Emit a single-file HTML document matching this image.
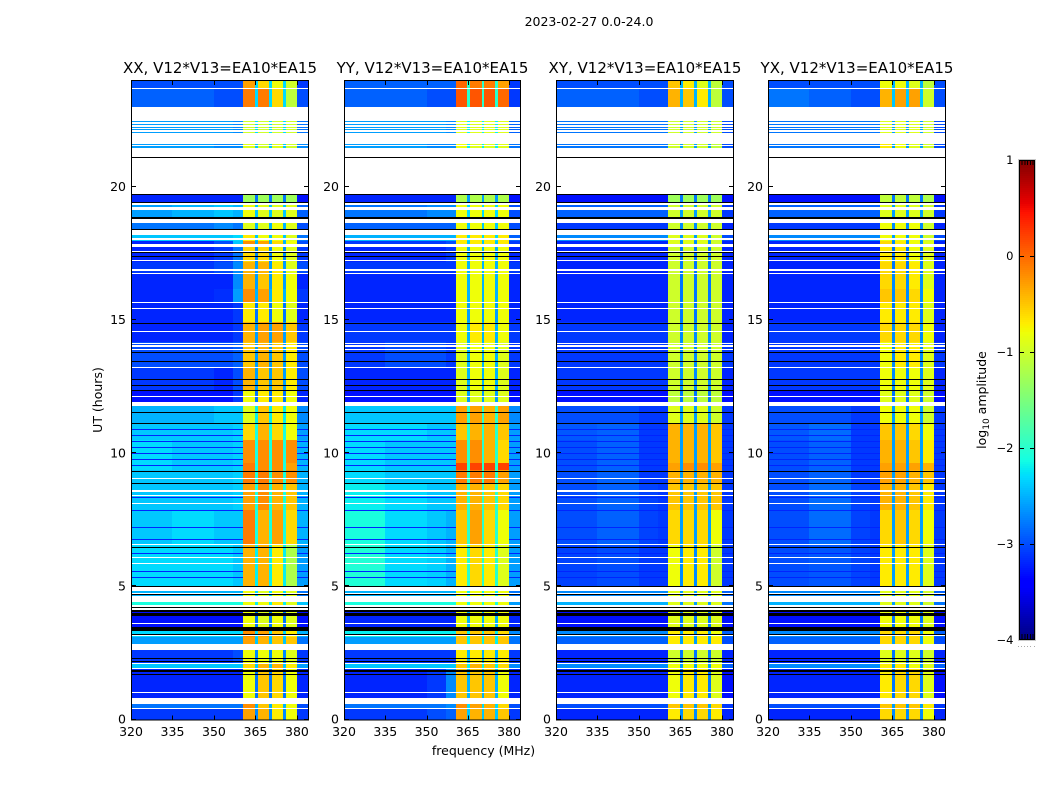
<!DOCTYPE html>
<html>
<head>
<meta charset="utf-8">
<title>2023-02-27 amplitude spectrogram</title>
<style>
html,body{margin:0;padding:0;background:#fff;}
svg{display:block;font-family:"DejaVu Sans","Liberation Sans",sans-serif;}
text{fill:#000;}
</style>
</head>
<body>
<svg id="figure" xmlns="http://www.w3.org/2000/svg" width="1050" height="800" viewBox="0 0 1050 800">
  <text x="589" y="26" font-size="12.5" text-anchor="middle">2023-02-27 0.0-24.0</text>
  <text x="483.5" y="755" font-size="12.5" text-anchor="middle">frequency (MHz)</text>
  <text x="0" y="0" font-size="12.5" text-anchor="middle" transform="translate(102 400) rotate(-90)">UT (hours)</text>
  <text x="0" y="0" font-size="12.5" text-anchor="middle" transform="translate(986 400) rotate(-90)">log<tspan font-size="9" dy="3">10</tspan><tspan dy="-3"> amplitude</tspan></text>
  <g id="panels"></g>
  <g id="colorbar"></g>
</svg>
<script>
// Time-segment edges (UT hours), top of the plot downwards
const timeEdges = [24,23.73,23.03,22.05,21.43,19.75,19.41,18.9,18.3,18.0,17.75,17.2,16.74,16.2,15.7,14.93,14.2,13.24,12.4,11.94,11.14,10.5,9.63,9.37,8.84,7.86,6.55,5.0,4.55,4.18,3.42,3.09,2.82,2.07,1.88,0.79,0.41,0];
// Frequency-channel edges (MHz)
const freqEdges = [320,335,350,357,360.6,364.9,365.9,370,371,375,376.1,380.1,384];
// Which matrix column feeds each frequency channel
// columns: low, mid, high, shoulder, subband A, B, C, D, upper edge, notch
const channelColumn = [0,1,2,3,4,9,5,9,6,9,7,8];

// log10 amplitude per time segment
const xxLevels = [
[-3.0,-3.0,-3.0,-3.0,-0.3,-0.6,-0.8,-1.0,-3.1,-2.3],
[-2.9,-2.9,-3.0,-3.0,-0.1,-0.1,-0.6,-1.1,-3.0,-2.3],
[-2.6,-2.6,-2.6,-2.7,-1.0,-1.0,-1.0,-1.0,-2.8,-2.3],
[-2.6,-2.6,-2.7,-2.7,-0.9,-1.0,-0.9,-1.0,-2.7,-2.4],
[-3.0,-3.0,-3.0,-3.0,-1.0,-1.0,-1.0,-1.0,-3.0,-2.4],
[-3.2,-3.2,-3.2,-3.2,-1.3,-1.3,-1.3,-1.3,-3.3,-2.8],
[-2.6,-2.5,-2.4,-2.5,-0.8,-0.9,-0.9,-0.9,-2.9,-2.4],
[-2.8,-2.8,-2.7,-2.8,-0.9,-0.9,-0.8,-0.9,-3.0,-2.5],
[-2.4,-2.4,-2.4,-2.3,-0.7,-0.8,-0.8,-0.9,-2.8,-2.4],
[-3.2,-3.2,-3.0,-2.4,-0.2,-0.3,-0.6,-0.8,-3.0,-2.5],
[-3.2,-3.2,-3.1,-2.8,-0.6,-0.6,-0.8,-0.9,-3.1,-2.7],
[-3.1,-3.1,-3.0,-2.7,-0.4,-0.4,-0.7,-0.9,-3.0,-2.6],
[-3.2,-3.2,-3.2,-2.7,-0.4,-0.5,-0.7,-0.8,-3.2,-2.6],
[-3.2,-3.2,-3.15,-2.6,-0.2,-0.3,-0.7,-0.8,-3.1,-2.5],
[-3.2,-3.2,-3.2,-3.1,-0.7,-0.7,-0.8,-0.9,-3.2,-2.8],
[-3.2,-3.2,-3.2,-3.1,-0.4,-0.3,-0.3,-0.5,-3.1,-2.6],
[-3.0,-3.0,-3.0,-2.9,-0.5,-0.4,-0.5,-0.7,-3.0,-2.6],
[-3.1,-3.1,-3.2,-3.0,-0.4,-0.5,-0.5,-0.7,-3.0,-2.6],
[-3.3,-3.3,-3.3,-3.1,-0.8,-0.7,-0.7,-0.8,-3.2,-2.8],
[-2.5,-2.5,-2.4,-2.4,-0.9,-0.5,-0.7,-0.8,-2.7,-2.2],
[-2.4,-2.4,-2.4,-2.35,-0.6,-0.4,-0.6,-0.8,-2.6,-2.1],
[-2.3,-2.4,-2.4,-2.35,-0.2,-0.2,-0.2,-0.2,-2.5,-2.1],
[-2.3,-2.4,-2.4,-2.35,-0.1,-0.2,-0.2,-0.3,-2.5,-2.1],
[-2.4,-2.4,-2.4,-2.35,-0.1,-0.1,-0.2,-0.2,-2.5,-2.1],
[-2.4,-2.4,-2.4,-2.35,-0.3,-0.2,-0.4,-0.5,-2.5,-2.1],
[-2.4,-2.3,-2.4,-2.4,-0.1,-0.4,-0.3,-0.6,-2.5,-2.1],
[-2.3,-2.3,-2.3,-2.4,-0.4,-0.4,-0.7,-1.2,-2.6,-2.2],
[-2.5,-2.5,-2.5,-2.5,-0.8,-0.9,-0.8,-0.9,-2.8,-2.3],
[-2.1,-2.1,-2.1,-2.1,-0.8,-0.8,-0.7,-0.9,-2.4,-2.2],
[-3.3,-3.3,-3.3,-3.3,-0.8,-0.9,-0.8,-0.9,-3.3,-2.8],
[-2.3,-2.3,-2.3,-2.3,-0.2,-0.3,-0.5,-0.7,-2.5,-2.3],
[-2.6,-2.6,-2.6,-2.6,-0.3,-0.4,-0.5,-0.5,-2.8,-2.4],
[-3.1,-3.1,-3.1,-3.0,-0.8,-0.8,-0.8,-0.9,-3.1,-2.7],
[-2.4,-2.4,-2.4,-2.4,-0.6,-0.4,-0.4,-0.7,-2.6,-2.4],
[-3.2,-3.2,-3.2,-3.2,-0.8,-0.5,-0.6,-0.8,-3.2,-2.8],
[-2.8,-2.8,-2.8,-2.8,-0.2,-0.5,-0.7,-0.8,-3.0,-2.5],
[-3.1,-3.1,-3.1,-3.1,-0.3,-0.4,-0.7,-0.8,-3.1,-2.7]
];
const yyLevels = [
[-2.9,-2.9,-2.9,-2.9,0.0,-0.1,-0.1,-0.3,-3.1,-2.0],
[-2.9,-2.9,-3.0,-3.0,0.1,0.1,0.1,0.0,-3.1,-2.0],
[-2.6,-2.6,-2.6,-2.7,-0.9,-0.9,-0.9,-0.9,-2.9,-2.2],
[-2.6,-2.6,-2.7,-2.7,-0.8,-0.9,-0.9,-0.9,-2.8,-2.2],
[-3.0,-3.0,-3.0,-3.0,-0.9,-0.9,-0.9,-0.9,-3.0,-2.3],
[-3.2,-3.2,-3.2,-3.2,-1.2,-1.2,-1.2,-1.2,-3.3,-2.6],
[-2.8,-2.8,-2.7,-2.7,-0.8,-0.8,-0.8,-0.8,-3.0,-2.3],
[-2.9,-2.9,-2.9,-2.9,-0.8,-0.8,-0.8,-0.8,-3.0,-2.4],
[-2.5,-2.5,-2.5,-2.5,-0.7,-0.7,-0.7,-0.7,-2.9,-2.3],
[-3.1,-3.1,-3.1,-3.0,-0.7,-0.7,-0.7,-0.7,-3.1,-2.4],
[-3.2,-3.2,-3.2,-3.1,-0.8,-0.8,-0.8,-0.8,-3.2,-2.5],
[-3.1,-3.1,-3.1,-3.1,-0.8,-0.8,-0.8,-0.8,-3.1,-2.5],
[-3.2,-3.2,-3.2,-3.2,-0.8,-0.8,-0.8,-0.8,-3.2,-2.5],
[-3.2,-3.2,-3.2,-3.2,-0.8,-0.8,-0.8,-0.8,-3.2,-2.5],
[-3.2,-3.2,-3.2,-3.2,-0.8,-0.8,-0.8,-0.8,-3.2,-2.6],
[-3.1,-3.1,-3.1,-3.1,-0.8,-0.7,-0.7,-0.8,-3.1,-2.5],
[-3.1,-3.0,-3.0,-3.1,-0.9,-0.8,-0.8,-0.9,-3.1,-2.5],
[-3.2,-3.2,-3.2,-3.2,-0.9,-0.8,-0.8,-0.9,-3.2,-2.5],
[-3.3,-3.3,-3.3,-3.3,-0.9,-0.9,-0.9,-0.9,-3.3,-2.6],
[-2.4,-2.4,-2.4,-2.4,-0.3,-0.3,-0.4,-0.3,-2.7,-2.0],
[-2.3,-2.3,-2.4,-2.4,-0.5,-0.4,-0.4,-0.5,-2.6,-2.0],
[-2.3,-2.4,-2.4,-2.4,-0.2,-0.2,-0.4,-0.6,-2.6,-2.0],
[-2.3,-2.4,-2.4,-2.4,0.2,0.2,0.2,0.2,-2.6,-2.0],
[-2.3,-2.4,-2.4,-2.4,-0.1,-0.1,-0.1,-0.3,-2.6,-2.0],
[-2.2,-2.3,-2.4,-2.4,-0.4,-0.4,-0.5,-0.6,-2.6,-2.0],
[-2.1,-2.3,-2.4,-2.5,-0.5,-0.3,-0.6,-0.8,-2.6,-2.0],
[-2.05,-2.3,-2.35,-2.5,-0.7,-0.6,-0.7,-0.9,-2.6,-2.0],
[-2.5,-2.5,-2.5,-2.5,-0.8,-0.8,-0.8,-0.8,-2.8,-2.2],
[-2.1,-2.1,-2.1,-2.1,-0.8,-0.8,-0.8,-0.8,-2.6,-2.1],
[-3.2,-3.2,-3.2,-3.2,-0.8,-0.8,-0.8,-0.8,-3.2,-2.5],
[-2.2,-2.2,-2.2,-2.2,-0.5,-0.5,-0.5,-0.6,-2.7,-2.2],
[-2.6,-2.6,-2.6,-2.6,-0.5,-0.5,-0.5,-0.5,-2.8,-2.2],
[-3.1,-3.1,-3.1,-3.1,-0.7,-0.7,-0.7,-0.7,-3.1,-2.5],
[-2.4,-2.4,-2.4,-2.4,-0.5,-0.4,-0.5,-0.6,-2.7,-2.2],
[-3.2,-3.2,-3.1,-2.7,-0.5,-0.5,-0.5,-0.8,-3.2,-2.5],
[-2.8,-2.8,-2.8,-2.7,-0.2,-0.3,-0.4,-0.6,-3.0,-2.3],
[-3.1,-3.1,-3.0,-2.9,-0.3,-0.4,-0.4,-0.5,-3.1,-2.4]
];
const xyLevels = [
[-3.0,-3.0,-3.0,-3.0,-0.5,-0.7,-0.9,-1.1,-3.0,-2.5],
[-2.9,-2.9,-3.0,-3.0,-0.4,-0.5,-0.7,-1.1,-3.0,-2.5],
[-2.8,-2.8,-2.8,-2.8,-1.0,-1.0,-1.0,-1.0,-3.0,-2.6],
[-2.8,-2.8,-2.8,-2.8,-1.0,-1.0,-1.0,-1.1,-3.0,-2.6],
[-3.1,-3.1,-3.1,-3.1,-1.0,-1.0,-1.0,-1.0,-3.1,-2.6],
[-3.3,-3.3,-3.3,-3.3,-1.3,-1.3,-1.3,-1.3,-3.3,-2.8],
[-2.9,-2.9,-2.9,-2.9,-1.0,-1.0,-1.0,-1.0,-3.1,-2.6],
[-3.1,-3.1,-3.1,-3.1,-1.0,-1.0,-1.0,-1.0,-3.2,-2.7],
[-2.7,-2.7,-2.7,-2.7,-0.9,-0.9,-0.9,-1.0,-3.0,-2.6],
[-3.2,-3.2,-3.2,-3.2,-0.9,-0.9,-0.9,-1.0,-3.2,-2.7],
[-3.2,-3.2,-3.2,-3.2,-1.0,-1.0,-1.0,-1.0,-3.2,-2.8],
[-3.2,-3.2,-3.2,-3.2,-1.0,-1.0,-1.0,-1.0,-3.2,-2.8],
[-3.2,-3.2,-3.2,-3.2,-1.0,-1.0,-1.0,-1.0,-3.2,-2.8],
[-3.2,-3.2,-3.2,-3.2,-1.0,-1.0,-1.0,-1.0,-3.2,-2.8],
[-3.2,-3.2,-3.2,-3.2,-1.0,-1.0,-1.0,-1.0,-3.2,-2.8],
[-3.1,-3.1,-3.1,-3.1,-1.0,-1.0,-1.0,-1.0,-3.2,-2.7],
[-3.1,-3.1,-3.1,-3.1,-1.0,-1.0,-1.0,-1.0,-3.1,-2.7],
[-3.1,-3.1,-3.1,-3.1,-1.0,-1.0,-1.0,-1.0,-3.2,-2.7],
[-3.3,-3.3,-3.3,-3.3,-1.1,-1.1,-1.1,-1.1,-3.3,-2.8],
[-3.0,-3.0,-3.1,-3.1,-0.9,-0.9,-0.9,-1.0,-3.1,-2.6],
[-2.95,-2.9,-3.1,-3.1,-0.4,-0.4,-0.4,-0.5,-3.1,-2.6],
[-3.0,-2.9,-3.1,-3.1,-0.4,-0.4,-0.4,-0.5,-3.1,-2.6],
[-3.0,-2.9,-3.1,-3.1,-0.3,-0.2,-0.2,-0.3,-3.1,-2.6],
[-3.0,-2.9,-3.1,-3.1,-0.4,-0.4,-0.4,-0.4,-3.1,-2.6],
[-3.0,-2.9,-3.05,-3.1,-0.5,-0.5,-0.5,-0.5,-3.1,-2.6],
[-3.0,-2.9,-3.05,-3.1,-0.6,-0.6,-0.6,-0.8,-3.1,-2.6],
[-3.05,-3.0,-3.1,-3.1,-0.8,-0.7,-0.7,-1.0,-3.1,-2.7],
[-2.7,-2.7,-2.7,-2.7,-0.9,-0.9,-0.9,-0.9,-2.9,-2.6],
[-2.5,-2.5,-2.5,-2.5,-0.9,-0.9,-0.9,-0.9,-2.8,-2.6],
[-3.3,-3.3,-3.3,-3.3,-0.9,-0.9,-0.9,-0.9,-3.3,-2.8],
[-2.7,-2.7,-2.7,-2.7,-0.7,-0.7,-0.7,-0.8,-2.9,-2.6],
[-2.9,-2.9,-2.9,-2.9,-0.7,-0.7,-0.7,-0.7,-3.0,-2.6],
[-3.2,-3.2,-3.2,-3.2,-1.0,-1.0,-1.0,-1.0,-3.2,-2.8],
[-2.7,-2.7,-2.7,-2.7,-0.8,-0.8,-0.8,-0.8,-2.9,-2.6],
[-3.2,-3.2,-3.2,-3.2,-0.8,-0.7,-0.7,-0.9,-3.3,-2.8],
[-3.0,-3.0,-3.0,-3.0,-0.5,-0.5,-0.5,-0.6,-3.1,-2.6],
[-3.2,-3.2,-3.2,-3.2,-0.7,-0.6,-0.6,-0.7,-3.2,-2.7]
];
const yxLevels = [
[-3.0,-3.0,-3.0,-3.0,-0.8,-0.8,-0.9,-1.1,-3.0,-2.5],
[-2.8,-2.9,-3.0,-3.0,-0.4,-0.3,-0.3,-1.0,-3.0,-2.4],
[-2.8,-2.8,-2.8,-2.8,-0.9,-0.9,-0.9,-1.0,-3.0,-2.6],
[-2.8,-2.8,-2.8,-2.8,-0.7,-0.8,-0.9,-1.0,-3.0,-2.6],
[-3.1,-3.1,-3.1,-3.1,-0.9,-0.9,-0.9,-1.0,-3.1,-2.6],
[-3.3,-3.3,-3.3,-3.3,-1.1,-1.1,-1.1,-1.2,-3.3,-2.8],
[-2.9,-2.9,-2.9,-2.9,-0.9,-0.9,-0.9,-1.0,-3.1,-2.6],
[-3.1,-3.1,-3.1,-3.1,-0.8,-0.8,-0.8,-1.0,-3.2,-2.7],
[-2.7,-2.7,-2.7,-2.7,-0.8,-0.8,-0.8,-1.0,-3.0,-2.6],
[-3.2,-3.2,-3.2,-3.2,-0.6,-0.7,-0.8,-0.9,-3.2,-2.7],
[-3.2,-3.2,-3.2,-3.2,-0.7,-0.7,-0.8,-0.9,-3.2,-2.8],
[-3.2,-3.2,-3.2,-3.2,-0.6,-0.6,-0.7,-0.9,-3.2,-2.8],
[-3.2,-3.2,-3.2,-3.2,-0.6,-0.6,-0.7,-0.9,-3.2,-2.7],
[-3.2,-3.2,-3.2,-3.2,-0.5,-0.5,-0.6,-0.8,-3.2,-2.7],
[-3.2,-3.2,-3.2,-3.2,-0.7,-0.7,-0.7,-0.9,-3.2,-2.8],
[-3.1,-3.1,-3.1,-3.1,-0.6,-0.6,-0.6,-0.8,-3.2,-2.7],
[-3.1,-3.1,-3.1,-3.1,-0.8,-0.7,-0.7,-0.9,-3.1,-2.7],
[-3.1,-3.1,-3.1,-3.1,-0.8,-0.8,-0.8,-0.9,-3.2,-2.7],
[-3.3,-3.3,-3.3,-3.3,-0.9,-0.9,-0.9,-1.0,-3.3,-2.8],
[-3.0,-3.0,-3.1,-3.1,-0.8,-0.8,-0.8,-1.0,-3.1,-2.6],
[-2.95,-2.85,-3.1,-3.1,-0.5,-0.5,-0.6,-0.8,-3.1,-2.6],
[-3.0,-2.9,-3.1,-3.1,-0.4,-0.4,-0.5,-0.7,-3.1,-2.6],
[-3.0,-2.9,-3.1,-3.1,-0.3,-0.3,-0.3,-0.4,-3.1,-2.6],
[-3.0,-2.9,-3.1,-3.1,-0.3,-0.3,-0.4,-0.5,-3.1,-2.6],
[-3.0,-2.85,-3.05,-3.1,-0.4,-0.4,-0.5,-0.7,-3.1,-2.6],
[-3.0,-2.85,-3.05,-3.1,-0.6,-0.5,-0.6,-0.8,-3.1,-2.6],
[-3.0,-2.95,-3.05,-3.1,-0.7,-0.7,-0.7,-0.9,-3.1,-2.6],
[-2.7,-2.7,-2.7,-2.7,-0.9,-0.9,-0.9,-1.0,-2.9,-2.6],
[-2.5,-2.5,-2.5,-2.5,-0.9,-0.9,-0.9,-1.0,-2.8,-2.6],
[-3.3,-3.3,-3.3,-3.3,-0.8,-0.8,-0.8,-0.9,-3.3,-2.8],
[-2.7,-2.7,-2.7,-2.7,-0.6,-0.6,-0.6,-0.8,-2.9,-2.6],
[-2.9,-2.9,-2.9,-2.9,-0.6,-0.6,-0.6,-0.8,-3.0,-2.6],
[-3.2,-3.2,-3.2,-3.2,-0.9,-0.9,-0.9,-1.0,-3.2,-2.8],
[-2.7,-2.7,-2.7,-2.7,-0.7,-0.7,-0.8,-0.9,-2.9,-2.6],
[-3.2,-3.2,-3.2,-3.2,-0.7,-0.6,-0.6,-0.9,-3.3,-2.8],
[-3.0,-3.0,-3.0,-3.0,-0.5,-0.5,-0.5,-0.7,-3.1,-2.6],
[-3.2,-3.2,-3.2,-3.2,-0.6,-0.6,-0.6,-0.8,-3.2,-2.7]
];

// Flagged (no data) intervals in UT hours: [upper, lower]
const blankBands = [[23.74,23.70],[23.03,22.51],[22.45,22.38],[22.33,22.27],[22.23,22.19],[22.14,22.10],[22.05,21.63],[21.58,21.54],[21.48,21.44],[21.43,21.16],[21.11,19.77],[19.41,19.33],[19.26,19.15],[18.83,18.68],[18.40,18.21],[18.11,18.02],[17.86,17.75],[17.62,17.58],[17.28,17.24],[16.92,16.87],[16.78,16.75],[15.68,15.64],[15.47,15.43],[14.62,14.58],[14.16,14.12],[14.06,14.02],[13.92,13.88],[13.25,13.22],[12.15,12.11],[11.94,11.78],[9.07,9.03],[8.62,8.57],[8.45,8.41],[8.13,8.09],[6.58,6.55],[6.09,6.06],[5.87,5.83],[4.98,4.82],[4.77,4.74],[4.63,4.42],[4.29,4.23],[4.18,4.13],[3.62,3.58],[3.16,3.12],[2.82,2.60],[2.14,2.11],[1.92,1.88],[1.04,1.00],[0.79,0.59],[0.43,0.39]];
// Zero-amplitude intervals in UT hours: [upper, lower]
const zeroBands = [[21.16,21.11],[19.77,19.74],[19.45,19.41],[18.87,18.83],[18.43,18.40],[17.58,17.54],[17.42,17.39],[14.89,14.86],[13.83,13.78],[13.49,13.46],[12.81,12.78],[12.58,12.55],[12.40,12.37],[11.55,11.52],[11.14,11.11],[9.33,9.30],[8.89,8.85],[6.47,6.43],[5.00,4.98],[4.70,4.67],[4.22,4.19],[4.10,4.03],[4.00,3.90],[3.47,3.37],[3.35,3.31],[3.20,3.16],[2.32,2.29],[2.21,2.17],[1.86,1.79],[1.72,1.69]];
// Thin dim rows outside the 360-380 MHz band
const dimHours = [10.91,10.68,10.46,10.23,10.01,9.78,9.56,8.35,7.86,7.22,6.8,6.25,5.57,5.34];
const dimLevel = [-3.2];

const xTicks = [320,335,350,365,380];
const yTicks = [0,5,10,15,20];
const colorTicks = [-4,-3,-2,-1,0,1];
const colorTickLabels = ['\u22124','\u22123','\u22122','\u22121','0','1'];

const SVGNS = 'http://www.w3.org/2000/svg';
const panelDefs = [
  {key:'xx', title:'XX, V12*V13=EA10*EA15', left:131, right:308, levels:xxLevels},
  {key:'yy', title:'YY, V12*V13=EA10*EA15', left:344, right:520, levels:yyLevels},
  {key:'xy', title:'XY, V12*V13=EA10*EA15', left:556, right:733, levels:xyLevels},
  {key:'yx', title:'YX, V12*V13=EA10*EA15', left:768, right:945, levels:yxLevels}
];
const TOP = 81, BOTTOM = 719.5, FREQ_MIN = 320, FREQ_MAX = 384, T_MIN = 0, T_MAX = 24;

function yScale(h){ return BOTTOM - (h - T_MIN) / (T_MAX - T_MIN) * (BOTTOM - TOP); }
function xScaleFor(p){ return function(f){ return p.left + (f - FREQ_MIN) / (FREQ_MAX - FREQ_MIN) * (p.right - p.left); }; }
function ramp(t, pts){
  for (let i = 1; i < pts.length; i++) {
    if (t <= pts[i][0]) {
      const a = pts[i-1], b = pts[i];
      return a[1] + (b[1] - a[1]) * (t - a[0]) / (b[0] - a[0]);
    }
  }
  return pts[pts.length-1][1];
}
function jet(v){
  const t = Math.max(0, Math.min(1, (v + 4) / 5));
  const r = ramp(t, [[0,0],[0.35,0],[0.66,1],[0.89,1],[1,0.5]]);
  const g = ramp(t, [[0,0],[0.125,0],[0.375,1],[0.64,1],[0.91,0],[1,0]]);
  const b = ramp(t, [[0,0.5],[0.11,1],[0.34,1],[0.65,0],[1,0]]);
  return 'rgb(' + Math.round(r*255) + ',' + Math.round(g*255) + ',' + Math.round(b*255) + ')';
}
function makeRect(parent, x0, y0, x1, y1, fill){
  const el = document.createElementNS(SVGNS, 'rect');
  const xa = Math.round(x0), xb = Math.round(x1), ya = Math.round(y0);
  const yb = Math.max(ya + 1, Math.round(y1));
  el.setAttribute('x', xa);
  el.setAttribute('y', ya);
  el.setAttribute('width', Math.max(1, xb - xa));
  el.setAttribute('height', yb - ya);
  el.setAttribute('fill', fill);
  el.setAttribute('shape-rendering', 'crispEdges');
  parent.appendChild(el);
  return el;
}
function makeLine(parent, x1, y1, x2, y2){
  const el = document.createElementNS(SVGNS, 'line');
  el.setAttribute('x1', x1);
  el.setAttribute('y1', y1);
  el.setAttribute('x2', x2);
  el.setAttribute('y2', y2);
  el.setAttribute('stroke', '#000');
  el.setAttribute('stroke-width', 1);
  el.setAttribute('shape-rendering', 'crispEdges');
  parent.appendChild(el);
  return el;
}
function makeText(parent, x, y, str, size, anchor){
  const el = document.createElementNS(SVGNS, 'text');
  el.setAttribute('x', x);
  el.setAttribute('y', y);
  el.setAttribute('font-size', size);
  el.setAttribute('text-anchor', anchor);
  el.textContent = str;
  parent.appendChild(el);
  return el;
}

const panelsRoot = document.getElementById('panels');
panelDefs.forEach(function(p){
  const x = xScaleFor(p);
  const g = document.createElementNS(SVGNS, 'g');
  
  
  panelsRoot.appendChild(g);

  // heatmap cells
  p.levels.forEach(function(row, r){
    for (let c = 0; c < channelColumn.length; c++) {
      const v = row[channelColumn[c]];
      const cell = makeRect(g, x(freqEdges[c]), yScale(timeEdges[r]), x(freqEdges[c+1]), yScale(timeEdges[r+1]), jet(v));
      
      
    }
  });
  // dim rows outside the band
  dimHours.forEach(function(h){
    const dim = makeRect(g, x(FREQ_MIN), yScale(h), x(360.6), yScale(h) + 1, jet(dimLevel[0]));
    
    
    const dimEdge = makeRect(g, x(380.1), yScale(h), x(FREQ_MAX), yScale(h) + 1, jet(dimLevel[0]));
    
    
  });
  // flagged rows
  blankBands.forEach(function(b){
    const blank = makeRect(g, x(FREQ_MIN), yScale(b[0]), x(FREQ_MAX), yScale(b[1]), '#fff');
    
    
  });
  zeroBands.forEach(function(b){
    const zero = makeRect(g, x(FREQ_MIN), yScale(b[0]), x(FREQ_MAX), yScale(b[1]), '#000');
    
    
  });

  // frame
  const frame = document.createElementNS(SVGNS, 'rect');
  frame.setAttribute('x', Math.round(p.left));
  frame.setAttribute('y', TOP - 0.5);
  frame.setAttribute('width', Math.round(p.right) - Math.round(p.left));
  frame.setAttribute('height', 639.5);
  frame.setAttribute('fill', 'none');
  frame.setAttribute('stroke', '#000');
  frame.setAttribute('stroke-width', 1);
  frame.setAttribute('transform', 'translate(0.5 0)');
  
  
  g.appendChild(frame);

  // x ticks
  xTicks.forEach(function(t){
    const px = Math.round(x(t)) + 0.5;
    const tb = makeLine(g, px, 719.5, px, 715.5);
    
    
    const tt = makeLine(g, px, 81, px, 85);
    
    
    const lbl = makeText(g, x(t), 736, String(t), 12.5, 'middle');
    
    
  });
  // y ticks
  yTicks.forEach(function(t){
    const py = Math.round(yScale(t)) - 0.5;
    const tl = makeLine(g, p.left, py, p.left + 5, py);
    
    
    const tr = makeLine(g, p.right - 4, py, p.right + 1, py);
    
    
    const lbl = makeText(g, p.left - 5, yScale(t) + 3.8, String(t), 12.5, 'end');
    
    
  });
  // title
  const title = makeText(g, (p.left + p.right) / 2 + 0.5, 73, p.title, 15, 'middle');
  
  
});

// colorbar
const cb = document.getElementById('colorbar');
const CB_LEFT = 1019, CB_RIGHT = 1035, CB_TOP = 160, CB_BOTTOM = 640;
function cbY(v){ return CB_BOTTOM - (v + 4) / 5 * (CB_BOTTOM - CB_TOP); }
const halo = document.createElementNS(SVGNS, 'rect');
halo.setAttribute('x', CB_LEFT - 1);
halo.setAttribute('y', CB_TOP - 1);
halo.setAttribute('width', CB_RIGHT - CB_LEFT + 2);
halo.setAttribute('height', CB_BOTTOM - CB_TOP + 2);
halo.setAttribute('fill', '#c8c8c8');


cb.appendChild(halo);
for (let py = CB_TOP; py < CB_BOTTOM; py += 2) {
  const v = 1 - (py + 1 - CB_TOP) / (CB_BOTTOM - CB_TOP) * 5;
  const seg = makeRect(cb, CB_LEFT, py, CB_RIGHT, py + 2, jet(v));
  
  
}
const cbFrame = document.createElementNS(SVGNS, 'rect');
cbFrame.setAttribute('x', CB_LEFT + 0.5);
cbFrame.setAttribute('y', CB_TOP + 0.5);
cbFrame.setAttribute('width', CB_RIGHT - CB_LEFT - 1);
cbFrame.setAttribute('height', CB_BOTTOM - CB_TOP - 1);
cbFrame.setAttribute('fill', 'none');
cbFrame.setAttribute('stroke', '#000');


cb.appendChild(cbFrame);
colorTicks.forEach(function(t, i){
  const py = Math.min(CB_BOTTOM - 1, Math.max(CB_TOP, Math.round(cbY(t)))) + 0.5;
  const a = makeLine(cb, CB_LEFT, py, CB_LEFT + 5, py);
  
  
  const b = makeLine(cb, CB_RIGHT - 5, py, CB_RIGHT, py);
  
  
  const lbl = makeText(cb, CB_LEFT - 5.5, cbY(t) + 4, colorTickLabels[i], 11.5, 'end');
  
  
});
[1,2,3,4,5].forEach(function(n){
  const px = CB_LEFT + n * 2.7 + 0.5;
  const top = makeLine(cb, px, CB_TOP, px, CB_TOP + 5);
  
  
  const bot = makeLine(cb, px, CB_BOTTOM - 6, px, CB_BOTTOM);
  
  
});
[0,1,2,3,4,5].forEach(function(n){
  const dot = makeRect(cb, 1017.5 + n * 3.2, 646, 1018.5 + n * 3.2, 647, '#aaa');
  
  
});
</script>
</body>
</html>
